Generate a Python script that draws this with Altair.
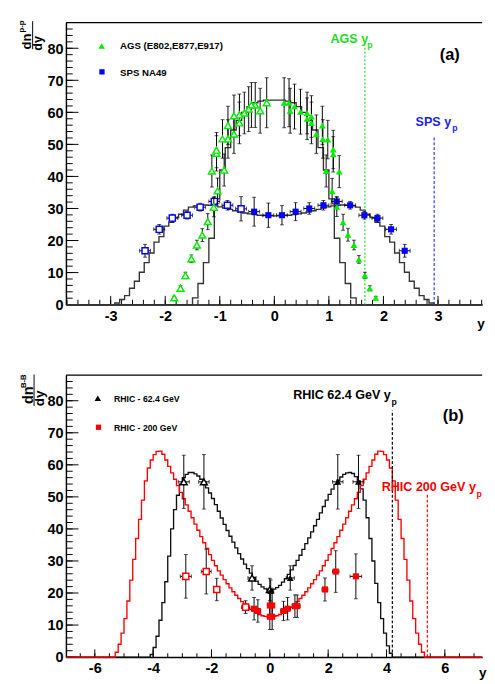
import altair as alt
import pandas as pd

FONT = "Liberation Sans"
W, H = 431, 292
Y_DOMAIN = [0, 88]
Y_MAJOR = [0, 10, 20, 30, 40, 50, 60, 70, 80]
Y_MINOR = list(range(0, 88, 2))

GREEN = "#00ee00"
BLUE = "#0000ff"
RED = "#ff0000"

# ---------------- panel (a) axes ----------------
A_X_DOMAIN = [-3.82, 3.81]
A_X_MAJOR = [-3, -2, -1, 0, 1, 2, 3]
A_X_MINOR = [v / 10 for v in range(-38, 39, 2)]

# model histograms for (a): bin start, bin width, contents
A1_START, A1_WIDTH = -1.5, 0.1
A1_VALUES = [2.1, 6.6, 13.1, 20.7, 33.0, 42.0, 49.0, 54.5, 57.5, 60.0, 61.8, 63.0, 63.5, 63.8, 63.8,
             63.8, 63.8, 63.5, 63.0, 61.8, 60.0, 57.5, 54.5, 49.0, 42.0, 33.0, 20.7, 13.1, 6.6, 2.1]
A2_START, A2_WIDTH = -2.925, 0.09
A2_VALUES = [0.5, 1.6, 2.8, 5.1, 7.3, 10.1, 13.1, 16.1, 19.5, 21.2, 24.5, 25.7, 27.2, 28.2, 29.5, 30.4,
             30.8, 31.0, 31.1, 31.0, 30.8, 30.5, 30.1, 29.7, 29.3, 28.9, 28.6, 28.3, 28.1, 27.9, 27.8, 27.7,
             27.7,
             27.7, 27.8, 27.9, 28.1, 28.3, 28.6, 28.9, 29.3, 29.7, 30.1, 30.5, 30.8, 31.0, 31.1, 31.0, 30.8,
             30.4, 29.5, 28.2, 27.2, 25.7, 24.5, 21.2, 19.5, 16.1, 13.1, 10.1, 7.3, 5.1, 2.8, 1.6, 0.5]

# AGS (E802,E877,E917): open = reflected (y<0), filled = measured (y>0)
AGS_OPEN_X = [-0.14, -0.26, -0.35, -0.42, -0.47, -0.55, -0.64, -0.64, -0.74, -0.74, -0.85, -0.85, -0.95,
              -1.06, -1.06, -1.145, -0.92, -1.04, -1.11, -1.22, -1.32, -1.42, -1.52, -1.63, -1.72, -1.835]
AGS_OPEN_Y = [63.0, 60.5, 62.3, 62.3, 61.0, 59.8, 56.7, 59.2, 58.9, 53.2, 55.9, 51.7, 51.7,
              47.2, 48.2, 41.7, 42.0, 35.5, 30.4, 25.9, 21.7, 18.6, 14.3, 9.1, 5.1, 2.1]
AGS_OPEN_E = [7.8, 7.0, 7.0, 7.0, 7.0, 6.5, 6.5, 6.5, 6.5, 6.0, 6.0, 6.0, 6.0,
              5.5, 5.5, 5.0, 5.0, 4.0, 3.0, 2.5, 2.0, 1.5, 1.2, 1.0, 0.8, 0.5]
AGS_FILL_X = [0.18, 0.27, 0.29, 0.37, 0.48, 0.60, 0.60, 0.68, 0.68, 0.77, 0.88, 0.89, 0.98,
              1.08, 1.08, 0.95, 1.19, 1.06, 1.145, 1.26, 1.35, 1.46, 1.55, 1.66, 1.75, 1.86]
AGS_FILL_Y = [63.0, 63.0, 60.5, 61.8, 60.2, 59.8, 58.0, 58.7, 56.7, 53.2, 55.9, 51.7, 51.5,
              48.4, 46.9, 41.7, 41.5, 35.4, 30.5, 25.7, 21.8, 18.6, 14.1, 9.1, 5.1, 2.1]
AGS_FILL_E = [7.8, 7.5, 7.0, 7.0, 7.0, 6.5, 6.5, 6.5, 6.5, 6.0, 6.0, 6.0, 6.0,
              6.0, 5.5, 5.0, 5.0, 4.0, 3.0, 2.5, 2.0, 1.5, 1.2, 1.0, 0.8, 0.5]

# SPS NA49
SPS_OPEN_X = [-2.37, -2.11, -1.87, -1.60, -1.36, -1.10, -0.86, -0.61]
SPS_OPEN_Y = [16.8, 23.5, 27.0, 27.9, 30.4, 32.2, 31.0, 29.9]
SPS_OPEN_E = [2.0, 1.5, 1.2, 1.2, 1.2, 1.5, 1.5, 3.8]
SPS_FILL_X = [-0.37, -0.11, 0.14, 0.39, 0.64, 0.90, 1.145, 1.39, 1.65, 1.89, 2.14, 2.39]
SPS_FILL_Y = [29.0, 27.9, 27.9, 29.0, 30.0, 31.0, 32.2, 31.0, 27.9, 27.0, 23.5, 16.8]
SPS_FILL_E = [4.5, 3.8, 3.0, 2.8, 1.8, 1.5, 1.5, 1.2, 1.2, 1.2, 1.5, 2.0]
SPS_XERR = 0.1

# beam rapidities (a)
AGS_YP, AGS_YP_TOP = 1.66, 80.3
SPS_YP, SPS_YP_TOP = 2.93, 52.7

# ---------------- panel (b) axes ----------------
B_X_DOMAIN = [-6.99, 7.28]
B_X_MAJOR = [-6, -4, -2, 0, 2, 4, 6]
B_X_MINOR = [v / 2 for v in range(-13, 15)]

RED_START, RED_WIDTH = -5.3, 0.1
RED_VALUES = [1.5, 4.0, 7.5, 12.0, 17.5, 24.0, 30.5, 37.0, 43.0, 49.0, 55.0, 59.0, 61.5, 63.2, 64.2,
              64.3, 63.3, 61.5, 59.5, 57.5, 55.5, 53.5, 51.4, 49.4, 47.5, 45.5, 43.5, 41.5, 39.6, 37.6,
              35.7, 33.9, 32.0, 30.2, 28.5, 26.9, 25.6, 24.2, 22.9, 21.6, 20.4, 19.3, 18.3, 17.3, 16.4,
              15.6, 14.9, 14.3, 13.8, 13.3, 12.9, 12.7, 12.6,
              12.6, 12.7, 12.9, 13.3, 13.8, 14.3, 14.9, 15.6, 16.4, 17.3, 18.3, 19.3, 20.4, 21.6, 22.9,
              24.2, 25.6, 26.9, 28.5, 30.2, 32.0, 33.9, 35.7, 37.6, 39.6, 41.5, 43.5, 45.5, 47.5, 49.4,
              51.4, 53.5, 55.5, 57.5, 59.5, 61.5, 63.3, 64.3, 64.2, 63.2, 61.5, 59.0, 55.0, 49.0, 43.0,
              37.0, 30.5, 24.0, 17.5, 12.0, 7.5, 4.0, 1.5]
BLK_START, BLK_WIDTH = -4.1, 0.1
BLK_VALUES = [0.8, 3.0, 6.5, 11.5, 17.0, 23.5, 31.5, 40.0, 46.0, 50.5, 54.0, 56.0, 57.0, 57.6, 57.6,
              57.2, 56.5, 55.5, 54.2, 52.8, 51.2, 49.5, 47.6, 45.5, 43.4, 41.4, 39.5, 37.7, 35.9, 34.1,
              32.3, 30.6, 29.0, 27.6, 26.2, 24.9, 23.7, 22.7, 21.9, 21.3, 21.0,
              21.0, 21.2, 21.7, 22.4, 23.4, 24.5, 25.8, 27.2, 28.6, 30.2, 31.8, 33.6, 35.4, 37.2, 39.1,
              41.0, 43.0, 45.0, 47.0, 49.0, 50.8, 52.4, 53.9, 55.2, 56.2, 57.0, 57.5, 57.6, 57.3, 56.3,
              55.0, 52.5, 49.0, 43.5, 37.0, 30.0, 23.0, 17.0, 12.0, 7.5, 3.5, 1.2]

# RHIC 62.4 GeV (triangles)
R62_OPEN_X = [-2.95, -2.26, -0.61, 0.0]
R62_OPEN_Y = [54.7, 54.7, 24.7, 21.1]
R62_OPEN_E = [8.3, 8.5, 3.8, 3.5]
R62_OPEN_XE = [0.19, 0.18, 0.14, 0.1]
R62_FILL_X = [0.03, 0.70, 2.33, 3.04]
R62_FILL_Y = [20.6, 24.7, 54.7, 54.7]
R62_FILL_E = [3.5, 3.8, 8.5, 8.3]
R62_FILL_XE = [0.1, 0.14, 0.18, 0.19]

# RHIC 200 GeV (squares)
R200_OPEN_X = [-2.88, -2.18, -1.82, -0.83]
R200_OPEN_Y = [25.2, 26.7, 21.1, 15.6]
R200_OPEN_E = [6.8, 7.0, 3.5, 2.0]
R200_OPEN_XE = [0.19, 0.17, 0.0, 0.14]
R200_FILL_X = [-0.54, -0.41, 0.0, 0.08, 0.0, 0.08, 0.47, 0.61, 0.86, 0.94, 1.89, 2.26, 2.95]
R200_FILL_Y = [15.1, 14.4, 16.1, 16.1, 12.6, 12.6, 14.4, 15.1, 15.9, 15.9, 21.1, 26.7, 25.2]
R200_FILL_E = [3.5, 3.5, 4.0, 4.0, 4.0, 4.0, 3.0, 3.5, 3.5, 3.5, 3.6, 6.5, 7.0]
R200_FILL_XE = [0.1, 0.1, 0.0, 0.0, 0.0, 0.0, 0.1, 0.1, 0.1, 0.1, 0.1, 0.11, 0.2]

R62_YP, R62_YP_TOP = 4.2, 77.0
R200_YP, R200_YP_TOP = 5.4, 50.8


def hist_frame(start, width, values, lo, hi):
    n = len(values)
    xs = [lo] + [start + i * width for i in range(n + 1)] + [hi]
    ys = [0.0] + list(values) + [0.0, 0.0]
    return pd.DataFrame({"x": xs, "y": ys, "o": list(range(len(xs)))})


def txt(s, x, y, size, color="black", angle=0, align="left", baseline="alphabetic"):
    return alt.Chart(pd.DataFrame({"t": [s]})).mark_text(
        font=FONT, fontSize=size, fontWeight="bold", color=color, angle=angle,
        align=align, baseline=baseline).encode(x=alt.value(x), y=alt.value(y), text="t:N")


def prule(x, x2, y, y2, width=1.5, color="black"):
    return alt.Chart(pd.DataFrame({"k": [0]})).mark_rule(color=color, strokeWidth=width).encode(
        x=alt.value(x), x2=alt.value(x2), y=alt.value(y), y2=alt.value(y2))


def sym(shape, x, y, size, color):
    return alt.Chart(pd.DataFrame({"k": [0]})).mark_point(
        shape=shape, filled=True, size=size, color=color, opacity=1).encode(
        x=alt.value(x), y=alt.value(y))


def make_panel(xdom, xmajor, xminor, xmaj_len, xmin_len, curves, pointsets, vlines, extras):
    xs = alt.Scale(domain=xdom, nice=False, zero=False)
    ys = alt.Scale(domain=Y_DOMAIN, nice=False, zero=False)
    xax = alt.Axis(values=xmajor, tickSize=0, title=None, grid=False, labelPadding=4,
                   labelFont=FONT, labelFontSize=15, labelFontWeight="bold", labelColor="black",
                   domainColor="black", domainWidth=1.5, labelExpr="'' + datum.value")
    yax = alt.Axis(values=Y_MAJOR, tickSize=0, title=None, grid=False, labelPadding=3,
                   labelFont=FONT, labelFontSize=15, labelFontWeight="bold", labelColor="black",
                   domainColor="black", domainWidth=1.5, labelExpr="'' + datum.value")

    def X(f):
        return alt.X(f, type="quantitative", scale=xs, axis=xax)

    def Y(f):
        return alt.Y(f, type="quantitative", scale=ys, axis=yax)

    layers = []
    # inner ticks
    tx_min = pd.DataFrame({"x": [v for v in xminor if xdom[0] < v < xdom[1]]})
    tx_maj = pd.DataFrame({"x": xmajor})
    layers.append(alt.Chart(tx_min).mark_rule(color="black", strokeWidth=1).encode(
        x=X("x"), y=alt.value(H), y2=alt.value(H - xmin_len)))
    layers.append(alt.Chart(tx_maj).mark_rule(color="black", strokeWidth=1).encode(
        x=X("x"), y=alt.value(H), y2=alt.value(H - xmaj_len)))
    layers.append(alt.Chart(pd.DataFrame({"y": Y_MINOR})).mark_rule(color="black", strokeWidth=1).encode(
        y=Y("y"), x=alt.value(0), x2=alt.value(7)))
    layers.append(alt.Chart(pd.DataFrame({"y": Y_MAJOR})).mark_rule(color="black", strokeWidth=1).encode(
        y=Y("y"), x=alt.value(0), x2=alt.value(13)))

    for df, color in curves:
        layers.append(alt.Chart(df).mark_line(interpolate="step-after", color=color, strokeWidth=1.4).encode(
            x=X("x"), y=Y("y"), order="o:Q"))

    for xv, top, color, dash in vlines:
        d = pd.DataFrame({"x": [xv], "y0": [0.0], "y1": [top]})
        layers.append(alt.Chart(d).mark_rule(color=color, strokeWidth=1.2, strokeDash=dash).encode(
            x=X("x"), y=Y("y0"), y2="y1"))

    for xl, yl, el, xel, shape, color, filled, size in pointsets:
        d = pd.DataFrame({"x": xl, "y": yl, "ey": el, "ex": xel})
        d["ylo"] = d["y"] - d["ey"]
        d["yhi"] = d["y"] + d["ey"]
        d["xlo"] = d["x"] - d["ex"]
        d["xhi"] = d["x"] + d["ex"]
        base = alt.Chart(d)
        layers.append(base.mark_rule(color="black", strokeWidth=1).encode(
            x=X("x"), y=Y("ylo"), y2="yhi"))
        layers.append(base.transform_fold(["ylo", "yhi"], as_=["k", "v"]).mark_tick(
            orient="horizontal", size=4, thickness=1, color="black").encode(x=X("x"), y=Y("v")))
        dx = d[d["ex"] > 0]
        if len(dx):
            bx = alt.Chart(dx)
            layers.append(bx.mark_rule(color="black", strokeWidth=1).encode(
                x=X("xlo"), x2="xhi", y=Y("y")))
            layers.append(bx.transform_fold(["xlo", "xhi"], as_=["k", "v"]).mark_tick(
                orient="vertical", size=4, thickness=1, color="black").encode(x=X("v"), y=Y("y")))
        if filled:
            pm = base.mark_point(shape=shape, filled=True, size=size, color=color, opacity=1)
        else:
            pm = base.mark_point(shape=shape, filled=True, size=size, fill="white", stroke=color,
                                 strokeWidth=1.5, opacity=1, fillOpacity=1)
        layers.append(pm.encode(x=X("x"), y=Y("y")))

    # top frame line
    layers.append(prule(0, W, 0, 0, 1.5))
    layers.extend(extras)
    return alt.layer(*layers).properties(width=W, height=H)


top = make_panel(
    A_X_DOMAIN, A_X_MAJOR, A_X_MINOR, 9, 5,
    curves=[(hist_frame(A2_START, A2_WIDTH, A2_VALUES, A_X_DOMAIN[0], A_X_DOMAIN[1]), "#333333"),
            (hist_frame(A1_START, A1_WIDTH, A1_VALUES, A_X_DOMAIN[0], A_X_DOMAIN[1]), "#333333")],
    pointsets=[
        (SPS_OPEN_X, SPS_OPEN_Y, SPS_OPEN_E, [SPS_XERR] * len(SPS_OPEN_X), "square", BLUE, False, 40),
        (SPS_FILL_X, SPS_FILL_Y, SPS_FILL_E, [SPS_XERR] * len(SPS_FILL_X), "square", BLUE, True, 40),
        (AGS_OPEN_X, AGS_OPEN_Y, AGS_OPEN_E, [0.0] * len(AGS_OPEN_X), "triangle-up", GREEN, False, 50),
        (AGS_FILL_X, AGS_FILL_Y, AGS_FILL_E, [0.0] * len(AGS_FILL_X), "triangle-up", GREEN, True, 50),
    ],
    vlines=[(AGS_YP, AGS_YP_TOP, "#22dd22", [2, 2]), (SPS_YP, SPS_YP_TOP, "#3333ff", [3, 2])],
    extras=[
        sym("triangle-up", 37, 24.2, 45, GREEN),
        txt("AGS (E802,E877,E917)", 56, 27.8, 10),
        sym("square", 37.3, 51, 30, BLUE),
        txt("SPS  NA49", 56, 54.8, 10),
        txt("AGS y", 274, 21.5, 13, "#22dd22"),
        txt("p", 312, 26.5, 9, "#22dd22"),
        txt("SPS y", 362, 107.2, 13, "#2222ee"),
        txt("p", 400, 112.5, 9, "#2222ee"),
        txt("(a)", 387, 39.2, 17),
        txt("y", 426, 316.5, 14),
        txt("dn", -36, 19.5, 13.5, angle=270, align="center"),
        txt("p-p\u0305", -43, 4, 8, angle=270, align="center"),
        prule(-34.5, -34.5, -1.5, 27.5, 1),
        txt("dy", -24.5, 21.5, 13, angle=270, align="center"),
    ],
)

bottom = make_panel(
    B_X_DOMAIN, B_X_MAJOR, B_X_MINOR, 8, 4,
    curves=[(hist_frame(BLK_START, BLK_WIDTH, BLK_VALUES, B_X_DOMAIN[0], B_X_DOMAIN[1]), "#111111"),
            (hist_frame(RED_START, RED_WIDTH, RED_VALUES, B_X_DOMAIN[0], B_X_DOMAIN[1]), RED)],
    pointsets=[
        (R62_OPEN_X, R62_OPEN_Y, R62_OPEN_E, R62_OPEN_XE, "triangle-up", "black", False, 50),
        (R62_FILL_X, R62_FILL_Y, R62_FILL_E, R62_FILL_XE, "triangle-up", "black", True, 50),
        (R200_OPEN_X, R200_OPEN_Y, R200_OPEN_E, R200_OPEN_XE, "square", RED, False, 40),
        (R200_FILL_X, R200_FILL_Y, R200_FILL_E, R200_FILL_XE, "square", RED, True, 40),
    ],
    vlines=[(R62_YP, R62_YP_TOP, "black", [3, 2]), (R200_YP, R200_YP_TOP, RED, [3, 2])],
    extras=[
        sym("triangle-up", 33, 24, 45, "black"),
        txt("RHIC - 62.4 GeV", 49.7, 28.3, 9),
        sym("square", 33.7, 54, 30, RED),
        txt("RHIC - 200 GeV", 49.7, 58.3, 9),
        txt("RHIC 62.4 GeV y", 235.3, 25, 13),
        txt("p", 337, 31.3, 9),
        txt("RHIC 200 GeV y", 327, 120, 13, RED),
        txt("p", 425, 126.3, 9, RED),
        txt("(b)", 390.3, 47.3, 17),
        txt("y", 427.7, 312.5, 14),
        txt("dn", -34.5, 20.8, 15, angle=270, align="center"),
        txt("B-B\u0305", -41, 6.3, 8, angle=270, align="center"),
        prule(-33, -33, -0.7, 32, 1),
        txt("dy", -22.5, 24, 14, angle=270, align="center"),
    ],
)

chart = alt.vconcat(top, bottom, spacing=43).properties(
    padding={"left": 11, "top": 0, "right": 0, "bottom": 0}, background="white"
).configure_view(stroke=None)

chart.save("out.html", embed_options={"renderer": "svg", "actions": False})
